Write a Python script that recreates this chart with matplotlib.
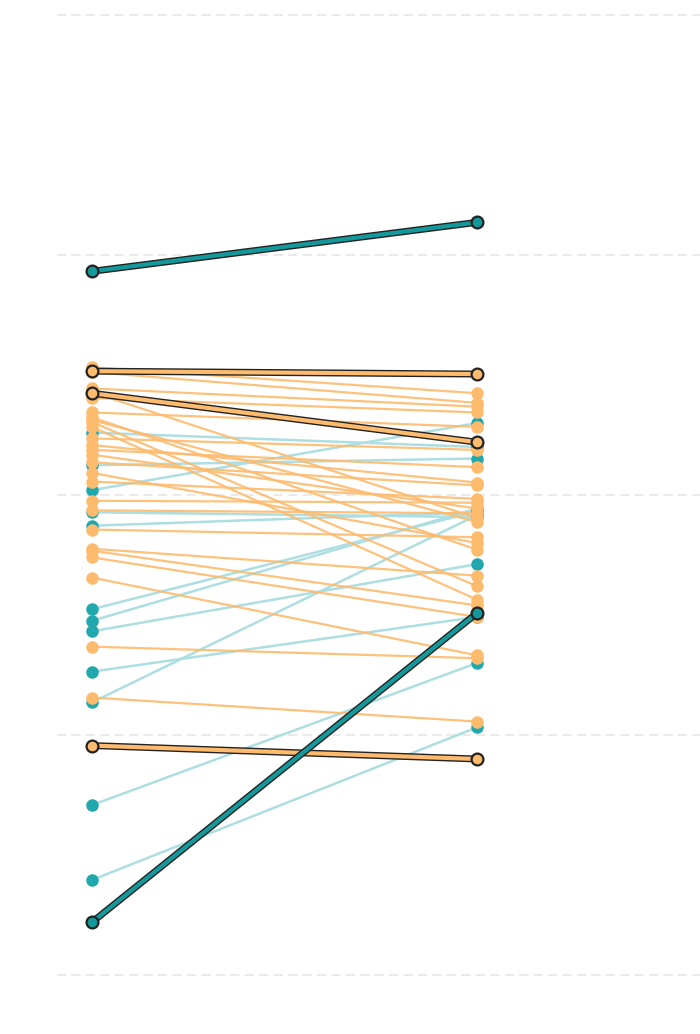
import matplotlib.pyplot as plt
import matplotlib.patheffects as pe

# before / after values (0-100 scale)
teal_before = [56.5, 53.1, 50.5, 48.2, 46.8, 38.1, 36.9, 35.8, 31.6, 28.4, 17.7, 9.9]
teal_after = [55.0, 53.8, 57.5, 47.7, 48.2, 48.3, 48.6, 42.8, 37.3, 47.9, 32.5, 25.8]

orange_before = [63.3, 62.8, 61.1, 60.1, 58.6, 58.1, 57.6, 57.1, 55.9, 55.2, 54.7,
                 54.2, 53.4, 52.3, 51.4, 49.4, 48.4, 60.7, 57.8, 46.4, 44.4, 44.2,
                 43.5, 41.4, 34.2, 28.9]
orange_after = [60.6, 59.6, 59.2, 58.6, 57.1, 44.3, 40.5, 39.1, 54.7, 51.3, 52.9,
                48.6, 51.0, 45.0, 49.6, 49.2, 48.1, 47.6, 47.2, 45.6, 41.6, 38.5,
                37.3, 33.3, 33.0, 26.4]

# highlighted series
hl_teal_before = [73.3, 5.5]
hl_teal_after = [78.4, 37.7]
hl_orange_before = [62.9, 60.6, 23.9]
hl_orange_after = [62.6, 55.5, 22.5]

TEAL = '#21a8ad'
TEAL_LIGHT = '#addee1'
TEAL_DARK = '#13999b'
ORANGE = '#fdbb6e'

fig = plt.figure(figsize=(7, 10.34), dpi=100)
ax = fig.add_axes([57 / 700, (1034 - 975) / 1034, 643 / 700, 960 / 1034])
ax.set_xlim(-35 / 385, 608 / 385)
ax.set_ylim(0, 100)

for y in [0, 25, 50, 75, 100]:
    ax.axhline(y, color='#e8e8e8', lw=1.3, ls=(0, (5, 3)), zorder=0, clip_on=False)

x = [0, 1]
for b, a in zip(teal_before, teal_after):
    ax.plot(x, [b, a], color=TEAL_LIGHT, lw=1.8, zorder=1)
for b, a in zip(teal_before, teal_after):
    ax.plot(x, [b, a], color=TEAL, lw=0, marker='o', ms=8, zorder=2, clip_on=False)
for b, a in zip(orange_before, orange_after):
    ax.plot(x, [b, a], color=ORANGE, lw=1.6, alpha=0.9, zorder=3)
    ax.plot(x, [b, a], color=ORANGE, lw=0, marker='o', ms=8, zorder=4, clip_on=False)

outline = [pe.Stroke(linewidth=5, foreground='#222222'), pe.Normal()]
for b, a in zip(hl_orange_before, hl_orange_after):
    ax.plot(x, [b, a], color=ORANGE, lw=3, zorder=5, path_effects=outline)
    ax.plot(x, [b, a], color=ORANGE, lw=0, marker='o', ms=8.5, mec='#222222',
            mew=1.6, zorder=6, clip_on=False)
for b, a in zip(hl_teal_before, hl_teal_after):
    ax.plot(x, [b, a], color=TEAL_DARK, lw=3, zorder=7, path_effects=outline)
    ax.plot(x, [b, a], color=TEAL_DARK, lw=0, marker='o', ms=8.5, mec='#222222',
            mew=1.6, zorder=8, clip_on=False)

ax.axis('off')
fig.savefig('out.png', dpi=100)
